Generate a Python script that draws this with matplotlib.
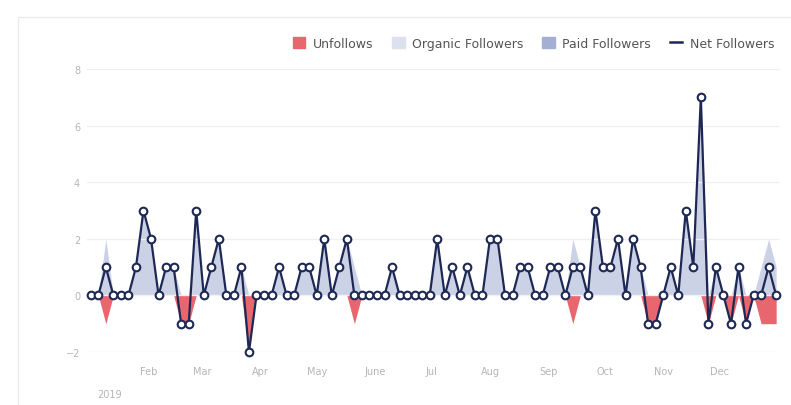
import matplotlib.pyplot as plt
import matplotlib.patches as mpatches
from matplotlib.lines import Line2D
import pandas as pd
import numpy as np

# Dates: one point every 4 days through 2019
dates = pd.date_range('2019-01-01', periods=92, freq='4D')

# Net followers
net = [0, 0, 1, 0, 0, 0, 1, 3, 2, 0,
       1, 1, -1, -1, 3, 0, 1, 2, 0, 0,
       1, -2, 0, 0, 0, 1, 0, 0, 1, 1,
       0, 2, 0, 1, 2, 0, 0, 0, 0, 0,
       1, 0, 0, 0, 0, 0, 2, 0, 1, 0,
       1, 0, 0, 2, 2, 0, 0, 1, 1, 0,
       0, 1, 1, 0, 1, 1, 0, 3, 1, 1,
       2, 0, 2, 1, -1, -1, 0, 1, 0, 3,
       1, 7, -1, 1, 0, -1, 1, -1, 0, 0,
       1, 0]

# Unfollows (negative side)
unfollows = [0, 0, -1, 0, 0, 0, 0, 0, 0, 0,
             0, 0, -1, -1, 0, 0, 0, 0, 0, 0,
             0, -2, 0, 0, 0, 0, 0, 0, 0, 0,
             0, 0, 0, 0, 0, -1, 0, 0, 0, 0,
             0, 0, 0, 0, 0, 0, 0, 0, 0, 0,
             0, 0, 0, 0, 0, 0, 0, 0, 0, 0,
             0, 0, 0, 0, -1, 0, 0, 0, 0, 0,
             0, 0, 0, 0, -1, -1, 0, 0, 0, 0,
             0, 0, -1, 0, 0, -1, 0, -1, 0, -1,
             -1, -1]

# Paid followers (none in this period)
paid = [0] * 92

# Organic = net - unfollows - paid
organic = [n - u - p for n, u, p in zip(net, unfollows, paid)]

month_ticks = pd.date_range('2019-02-01', periods=11, freq='MS')
month_labels = ['Feb', 'Mar', 'Apr', 'May', 'June', 'Jul', 'Aug', 'Sep', 'Oct', 'Nov', 'Dec']
y_ticks = [-2, 0, 2, 4, 6, 8]

red = '#e8676e'
organic_c = '#ccd2e5'
paid_c = '#a4afd4'
navy = '#1d2855'

fig = plt.figure(figsize=(7.91, 4.06), dpi=100)
ax = fig.add_axes([0.110, 0.1305, 0.876, 0.697])

# card outline
fig.patches.append(mpatches.Rectangle((18 / 791, -0.1), 1.2, (406 - 18) / 406 + 0.1,
                                      transform=fig.transFigure, fill=False,
                                      edgecolor='#ececec', linewidth=1))

org = np.array(organic)
pd_ = np.array(paid)
ax.fill_between(dates, 0, pd_, color=paid_c, linewidth=0, zorder=1)
ax.fill_between(dates, pd_, pd_ + org, color=organic_c, linewidth=0, zorder=1)
ax.fill_between(dates, 0, unfollows, color=red, linewidth=0, zorder=1)

ax.plot(dates, net, color=navy, linewidth=1.6, marker='o', markersize=5.5,
        markerfacecolor='white', markeredgecolor=navy, markeredgewidth=1.5,
        zorder=3, clip_on=False)

ax.set_ylim(-2, 8)
ax.set_yticks(y_ticks)
ax.set_xlim(pd.Timestamp('2018-12-30'), pd.Timestamp('2020-01-02'))
ax.set_xticks(month_ticks)
ax.set_xticklabels(month_labels)
ax.text(pd.Timestamp('2019-01-11'), -0.13, '2019', transform=ax.get_xaxis_transform(),
        ha='center', va='top', fontsize=7, color='#b5b5b5')

ax.grid(axis='y', color='#f0f0f0', linewidth=1, zorder=0)
for s in ax.spines.values():
    s.set_visible(False)
ax.tick_params(axis='both', length=0, labelsize=7, colors='#b5b5b5')
ax.tick_params(axis='x', pad=10)
ax.tick_params(axis='y', pad=5)

handles = [mpatches.Patch(color=red, label='Unfollows'),
           mpatches.Patch(color='#dde0ee', label='Organic Followers'),
           mpatches.Patch(color=paid_c, label='Paid Followers'),
           Line2D([], [], color=navy, linewidth=1.8, label='Net Followers')]
fig.legend(handles=handles, loc='upper right', bbox_to_anchor=(0.993, 0.935), ncol=4,
           frameon=False, fontsize=9, handlelength=1.0, handleheight=1.0,
           columnspacing=1.5, handletextpad=0.6, labelcolor='#555555')

fig.savefig('out.png', dpi=100, facecolor='white')
